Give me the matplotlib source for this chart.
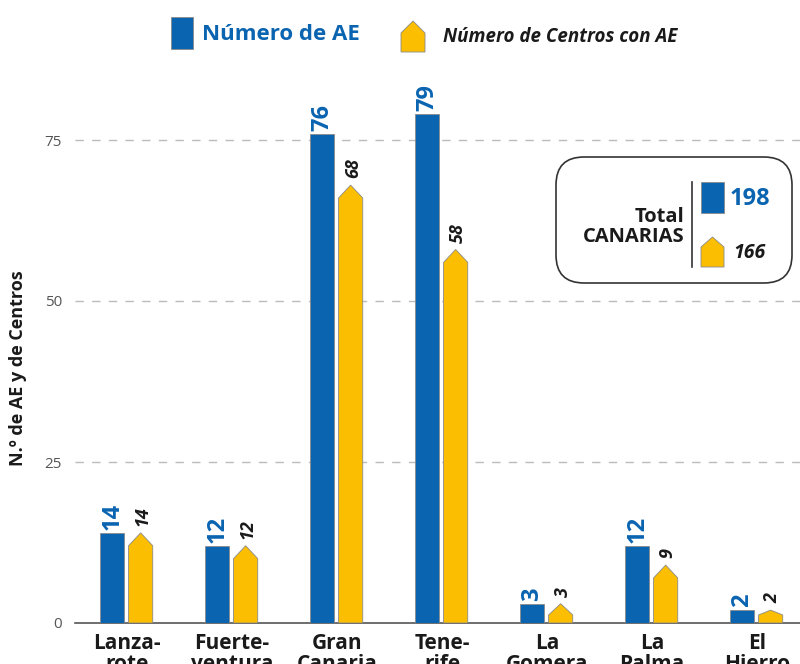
import matplotlib.pyplot as plt
from matplotlib.patches import Polygon, Rectangle, FancyBboxPatch
from matplotlib.lines import Line2D

plt.rcParams['font.family'] = ['Open Sans', 'DejaVu Sans']

# data
islas = ['Lanza-\nrote', 'Fuerte-\nventura', 'Gran\nCanaria', 'Tene-\nrife',
         'La\nGomera', 'La\nPalma', 'El\nHierro']
num_ae = [14, 12, 76, 79, 3, 12, 2]
num_centros = [14, 12, 68, 58, 3, 9, 2]
total_ae = 198
total_centros = 166

blue = '#0a64b0'
yellow = '#fbbe00'
edge = '#8a8a8a'

W, H = 800, 664
fig = plt.figure(figsize=(W / 100, H / 100), dpi=100)


def px(x, y):
    # pixel coords (from top-left) to figure fraction
    return x / W, 1 - y / H


ax = fig.add_axes([74.5 / W, 41 / H, 735 / W, 547.4 / H])
ax.set_xlim(-0.5, 6.5)
ax.set_ylim(0, 85)

bw = 0.23
xs = list(range(len(islas)))
xb = [i - 0.14 for i in xs]
xy = [i + 0.13 for i in xs]

ax.bar(xb, num_ae, width=bw, color=blue, edgecolor=edge, linewidth=0.6, zorder=3)

for c, v in zip(xy, num_centros):
    roof = min(2.0, v - 1.25)
    pts = [(c - bw / 2, 0), (c + bw / 2, 0), (c + bw / 2, v - roof),
           (c, v), (c - bw / 2, v - roof)]
    ax.add_patch(Polygon(pts, closed=True, facecolor=yellow, edgecolor=edge,
                         linewidth=0.6, zorder=3))

for c, v in zip(xb, num_ae):
    ax.annotate(str(v), (c, v), xytext=(0, 2), textcoords='offset points',
                rotation=90, ha='center', va='bottom', color=blue,
                fontsize=17, fontweight='bold')
for c, v in zip(xy, num_centros):
    ax.annotate(str(v), (c + 0.02, v), xytext=(0, 5), textcoords='offset points',
                rotation=90, ha='center', va='bottom', color='#1a1a1a',
                fontsize=13, fontweight='bold', fontstyle='italic')

# axes styling
for s in ['top', 'right', 'left']:
    ax.spines[s].set_visible(False)
ax.spines['bottom'].set_color('#555555')
ax.spines['bottom'].set_linewidth(1.2)
ax.set_yticks([0, 25, 50, 75])
ax.tick_params(axis='y', length=0, pad=9, labelsize=11, labelcolor='#555555')
ax.tick_params(axis='x', length=0, pad=7)
ax.set_xticks(xs)
ax.set_xticklabels(islas, fontsize=15, fontweight='bold', color='#1a1a1a',
                   linespacing=1.0, va='top')
ax.yaxis.grid(True, linestyle=(0, (6, 6)), color='#bbbbbb', linewidth=1)
ax.set_axisbelow(True)
for gl in ax.yaxis.get_gridlines()[:1]:
    gl.set_visible(False)

fig.text(*px(18, 368), 'N.º de AE y de Centros', rotation=90, ha='center',
         va='center', fontsize=13, fontweight='bold', color='#1a1a1a')

# legend at top
x0, y0 = px(171, 49)
x1, y1 = px(193, 17)
fig.add_artist(Rectangle((x0, y0), x1 - x0, y1 - y0, transform=fig.transFigure,
                         facecolor=blue, edgecolor=edge, linewidth=0.6))
fig.text(*px(202, 34), 'Número de AE', ha='left', va='center', fontsize=16,
         fontweight='bold', color=blue)


def house(xl, xr, ytop, yshoulder, ybot):
    pts = [px(xl, ybot), px(xr, ybot), px(xr, yshoulder),
           px((xl + xr) / 2, ytop), px(xl, yshoulder)]
    fig.add_artist(Polygon(pts, closed=True, transform=fig.transFigure,
                           facecolor=yellow, edgecolor=edge, linewidth=0.6))


house(401, 425, 21, 33, 52)
fig.text(*px(443, 37), 'Número de Centros con AE', ha='left', va='center',
         fontsize=13.5, fontweight='bold', fontstyle='italic', color='#1a1a1a')

# total box
bx0, by0 = px(556, 283)
bx1, by1 = px(792, 157)
fig.add_artist(FancyBboxPatch((bx0, by0), bx1 - bx0, by1 - by0,
                              boxstyle='round,pad=0,rounding_size=0.035',
                              transform=fig.transFigure, facecolor='white',
                              edgecolor='#333333', linewidth=1.2, zorder=5,
                              mutation_aspect=W / H))
fig.text(*px(684, 227), 'Total\nCANARIAS', ha='right', va='center', fontsize=14.5,
         fontweight='bold', color='#1a1a1a', multialignment='right',
         linespacing=1.0, zorder=6)
lx, ly0 = px(692, 267)
_, ly1 = px(692, 182)
fig.add_artist(Line2D([lx, lx], [ly0, ly1], transform=fig.transFigure,
                      color='#333333', linewidth=1.2, zorder=6))
r0 = px(701, 213)
r1 = px(724, 182)
fig.add_artist(Rectangle(r0, r1[0] - r0[0], r1[1] - r0[1], transform=fig.transFigure,
                         facecolor=blue, edgecolor=edge, linewidth=0.6, zorder=6))
fig.text(*px(730, 199), str(total_ae), ha='left', va='center', fontsize=17,
         fontweight='bold', color=blue, zorder=6)
pts = [px(701, 267), px(724, 267), px(724, 247), px(712.5, 237), px(701, 247)]
fig.add_artist(Polygon(pts, closed=True, transform=fig.transFigure,
                       facecolor=yellow, edgecolor=edge, linewidth=0.6, zorder=6))
fig.text(*px(733, 253), str(total_centros), ha='left', va='center', fontsize=14,
         fontweight='bold', fontstyle='italic', color='#1a1a1a', zorder=6)

fig.savefig('out.png', dpi=100)
